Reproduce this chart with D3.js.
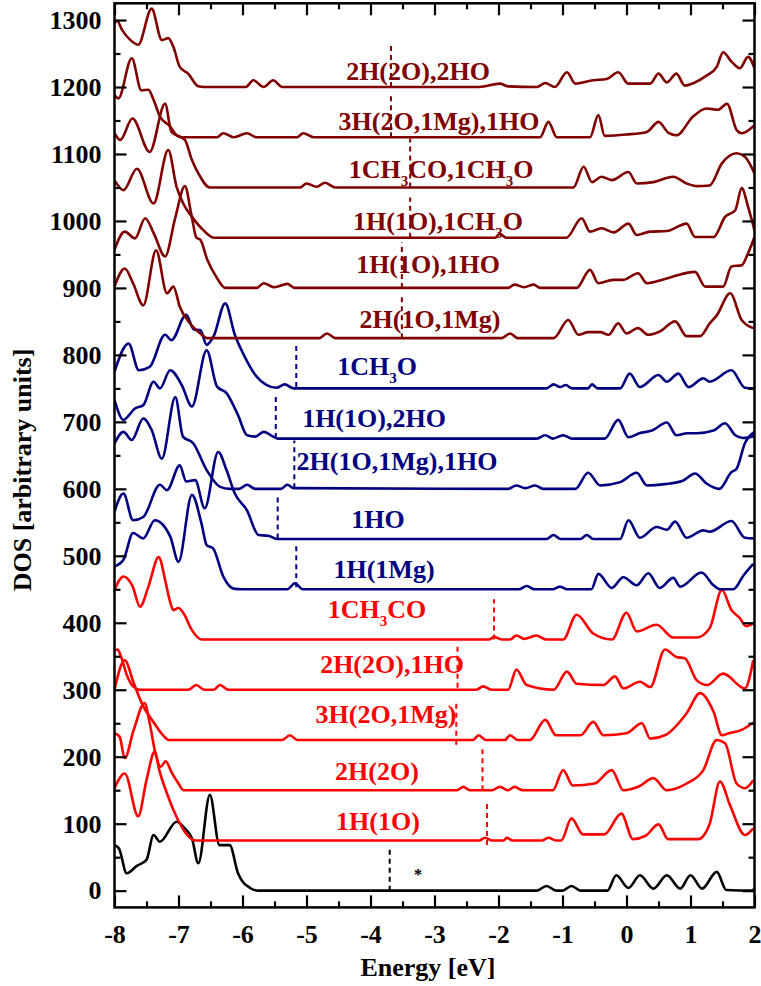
<!DOCTYPE html>
<html>
<head>
<meta charset="utf-8">
<title>DOS</title>
<script src="https://cdn.jsdelivr.net/npm/d3@7"></script>
<style>
  body { margin:0; background:#fff; }
  text { font-family:"Liberation Serif","Times New Roman",serif; font-weight:bold; }
</style>
</head>
<body>
<svg id="chart" width="761" height="986"></svg>
<script>
// energy [eV], DOS above the curve's own baseline
var black0 = [[-8,68],[-7.93,63],[-7.81,26],[-7.65,37],[-7.5,46],[-7.39,83],[-7.29,73],[-7.03,103],[-6.9,93],[-6.79,78],[-6.69,41],[-6.51,143],[-6.36,68],[-6.2,68],[-6.07,26],[-5.88,4],[-5.75,0],
  [-1.4,0],[-1.25,7],[-1.1,0],[-1.0,0],[-0.86,7],[-0.72,0],[-0.3,0],[-0.16,23],[0.03,4],[0.21,23],[0.42,3],[0.63,23],[0.84,3],[1.0,23],[1.18,3],[1.41,28],[1.56,1],[1.95,0],[2,3]];

var red1 = [[-8,78],[-7.84,100],[-7.63,36],[-7.5,90],[-7.37,133],[-7.3,105],[-7.18,70],[-7.03,35],[-6.88,10],[-6.74,0],
  [-2.3,0],[-2.21,4],[-2.1,0],[-1.92,0],[-1.87,4],[-1.78,0],[-1.32,0],[-1.22,4],[-1.1,0],[-1.02,0],[-0.86,33],[-0.68,9],[-0.35,9],[-0.08,40],[0.1,2],[0.3,7],[0.5,24],[0.65,2],[1.12,2],[1.3,25],[1.46,88],[1.62,52],[1.85,8],[1.98,18]];
var red2 = [[-8,85],[-7.92,80],[-7.84,48],[-7.7,90],[-7.53,130],[-7.45,100],[-7.36,55],[-7.28,35],[-7.2,43],[-7.1,25],[-7.0,10],[-6.92,0],
  [-2.65,0],[-2.55,5],[-2.45,0],[-2.1,0],[-1.98,5],[-1.85,0],[-1.75,5],[-1.62,0],[-1.15,0],[-0.99,30],[-0.84,7],[-0.5,10],[-0.23,30],[-0.05,0],[0.2,6],[0.42,18],[0.63,0],[0.94,10],[1.2,30],[1.41,75],[1.54,70],[1.72,10],[1.85,3],[1.98,15]];
var red3 = [[-8,75],[-7.84,119],[-7.7,85],[-7.55,50],[-7.4,28],[-7.25,8],[-7.15,0],[-5.38,0],[-5.26,7],[-5.14,0],
  [-2.4,0],[-2.31,7],[-2.2,0],[-1.9,0],[-1.82,7],[-1.7,0],[-1.51,0],[-1.27,30],[-1.1,7],[-0.72,7],[-0.52,27],[-0.36,7],[0.0,10],[0.24,25],[0.37,2],[0.6,7],[0.94,40],[1.15,70],[1.36,42],[1.49,7],[1.6,10],[1.8,15],[1.98,26]];
var red4 = [[-8,59],[-7.95,60],[-7.9,50],[-7.8,20],[-7.71,5],[-7.6,0],[-6.85,0],[-6.72,7],[-6.6,0],[-6.45,0],[-6.35,7],[-6.22,0],
  [-2.35,0],[-2.24,5],[-2.1,0],[-1.85,0],[-1.72,30],[-1.56,7],[-1.14,0],[-0.93,27],[-0.78,9],[-0.36,7],[-0.18,20],[-0.05,2],[0.21,12],[0.37,4],[0.6,60],[0.78,49],[0.91,47],[1.1,14],[1.26,7],[1.51,24],[1.85,2],[1.98,44]];
var red5 = [[-8,74],[-7.86,94],[-7.72,80],[-7.6,49],[-7.47,79],[-7.31,123],[-7.2,85],[-7.13,56],[-7.08,44],[-7.0,47],[-6.92,39],[-6.79,14],[-6.64,0],
  [-2.15,0],[-2.07,4],[-1.95,0],[-1.82,0],[-1.72,6],[-1.6,1],[-1.41,6],[-1.25,0],[-0.99,0],[-0.78,37],[-0.52,9],[-0.23,0],[0.0,40],[0.16,12],[0.47,22],[0.73,3],[1.1,3],[1.3,17],[1.49,74],[1.64,44],[1.77,32],[1.87,20],[1.98,24]];

var blue1 = [[-8,34],[-7.86,44],[-7.71,84],[-7.55,76],[-7.37,103],[-7.13,79],[-7.0,41],[-6.79,141],[-6.64,98],[-6.56,66],[-6.46,61],[-6.3,19],[-6.14,1],[-6.0,0],[-5.3,0],[-5.18,9],[-5.06,0],
  [-1.68,0],[-1.56,5],[-1.44,0],[-1.15,0],[-1.04,4],[-0.93,0],[-0.55,0],[-0.44,23],[-0.23,2],[-0.05,18],[0.16,6],[0.34,24],[0.52,2],[0.73,17],[0.84,4],[1.17,25],[1.36,6],[1.46,0],[1.67,0],[1.83,21],[1.98,38]];
var blue2 = [[-8,41],[-7.86,68],[-7.71,28],[-7.55,33],[-7.29,81],[-7.18,73],[-6.98,110],[-6.88,86],[-6.74,88],[-6.59,46],[-6.38,130],[-6.25,103],[-6.12,68],[-5.93,43],[-5.75,6],[-5.6,5],[-5.45,0],
  [-1.25,0],[-1.14,6],[-1.03,0],[-0.72,0],[-0.62,6],[-0.52,0],[-0.1,0],[0.03,28],[0.21,2],[0.47,18],[0.63,14],[0.76,26],[0.94,2],[1.2,13],[1.3,11],[1.64,27],[1.85,2],[2,1]];
var blue3 = [[-8,68],[-7.86,85],[-7.73,73],[-7.55,105],[-7.42,88],[-7.26,45],[-7.05,137],[-6.93,78],[-6.77,68],[-6.56,28],[-6.35,3],[-6.2,0],[-6.05,0],[-5.93,6],[-5.8,0],[-5.4,0],[-5.3,6],[-5.2,1],
  [-1.85,0],[-1.72,5],[-1.58,1],[-1.43,5],[-1.3,0],[-0.8,0],[-0.6,24],[-0.41,5],[-0.1,10],[0.16,24],[0.32,5],[0.6,7],[0.88,12],[1.07,23],[1.25,8],[1.45,0],[1.64,25],[1.72,30],[1.85,68],[2,85]];
var blue4 = [[-8,58],[-7.86,28],[-7.68,45],[-7.55,50],[-7.39,85],[-7.29,75],[-7.13,102],[-6.95,80],[-6.79,48],[-6.56,132],[-6.4,78],[-6.25,68],[-6.07,35],[-5.93,5],[-5.8,3],[-5.67,10],[-5.52,3],[-5.45,0],
  [-1.4,0],[-1.27,5],[-1.15,0],[-0.99,5],[-0.85,0],[-0.34,0],[-0.13,28],[0.03,2],[0.2,8],[0.4,12],[0.63,24],[0.78,5],[0.95,8],[1.1,8],[1.36,12],[1.54,23],[1.7,5],[1.82,1],[2,4]];
var blue5 = [[-8,25],[-7.78,67],[-7.62,27],[-7.45,32],[-7.21,80],[-7.11,72],[-6.88,110],[-6.76,88],[-6.66,87],[-6.56,65],[-6.45,78],[-6.27,127],[-6.12,80],[-5.98,50],[-5.8,20],[-5.62,5],[-5.47,1],[-5.34,6],[-5.2,0],
  [-1.25,0],[-1.14,6],[-1.04,2],[-0.95,5],[-0.85,0],[-0.6,0],[-0.54,6],[-0.45,0],[-0.1,0],[0.05,22],[0.21,2],[0.5,20],[0.63,10],[0.81,22],[0.97,2],[1.2,15],[1.3,10],[1.64,27],[1.85,1],[2,0]];

var dred1 = [[-8,77],[-7.84,104],[-7.71,82],[-7.55,49],[-7.35,131],[-7.18,67],[-7.08,77],[-6.98,47],[-6.82,22],[-6.66,7],[-6.55,0],[-4.8,0],[-4.68,7],[-4.55,0],
  [-1.95,0],[-1.82,7],[-1.7,0],[-1.14,0],[-0.91,27],[-0.75,5],[-0.6,9],[-0.41,9],[-0.28,5],[-0.13,22],[0,7],[0.18,15],[0.34,5],[0.52,10],[0.76,25],[0.94,3],[1.15,3],[1.3,22],[1.41,34],[1.62,67],[1.8,27],[1.98,15]];
var dred2 = [[-8,57],[-7.84,84],[-7.68,74],[-7.52,104],[-7.38,80],[-7.21,47],[-7.05,105],[-6.9,152],[-6.8,110],[-6.72,75],[-6.66,72],[-6.55,42],[-6.4,15],[-6.27,0],[-5.78,0],[-5.67,7],[-5.5,1],[-5.3,6],[-5.18,0],
  [-1.85,0],[-1.75,5],[-1.6,1],[-1.45,5],[-1.35,0],[-0.78,0],[-0.57,27],[-0.44,7],[-0.21,12],[-0.05,12],[0.18,22],[0.32,7],[0.55,12],[0.73,17],[1.07,24],[1.23,2],[1.51,2],[1.64,32],[1.8,34],[1.9,52],[2,76]];
var dred3 = [[-8,86],[-7.86,71],[-7.65,103],[-7.39,51],[-7.16,131],[-7.03,76],[-6.92,50],[-6.78,30],[-6.62,12],[-6.45,0],
  [-2.05,0],[-1.98,6],[-1.88,0],[-0.94,0],[-0.7,29],[-0.57,9],[-0.39,14],[-0.2,8],[0.03,21],[0.16,4],[0.37,9],[0.63,10],[0.94,21],[1.07,1],[1.36,1],[1.54,31],[1.7,41],[1.8,74],[1.9,46],[2,11]];
var dred4 = [[-8,81],[-7.91,71],[-7.72,103],[-7.45,53],[-7.21,125],[-7.11,83],[-6.9,71],[-6.79,41],[-6.69,21],[-6.51,0],[-5.1,0],[-5.0,6],[-4.84,1],[-4.71,7],[-4.55,0],
  [-0.83,0],[-0.67,31],[-0.54,8],[-0.39,16],[-0.23,11],[0.03,23],[0.16,6],[0.42,8],[0.73,16],[0.94,6],[1.1,2],[1.3,3],[1.49,36],[1.72,51],[1.85,46],[2,21]];
var dred5 = [[-8,63],[-7.94,58],[-7.73,118],[-7.58,70],[-7.47,71],[-7.39,56],[-7.29,31],[-7.13,16],[-7.03,3],[-6.95,0],[-6.4,0],[-6.3,6],[-6.14,0],[-5.93,6],[-5.78,0],[-5.15,0],[-5.05,6],[-4.89,0],
  [-1.35,0],[-1.22,23],[-1.09,0],[-0.57,0],[-0.44,33],[-0.34,2],[0,4],[0.32,8],[0.5,23],[0.65,7],[0.78,3],[1.04,31],[1.25,43],[1.43,41],[1.57,50],[1.72,11],[1.8,6],[2,18]];
var dred6 = [[-8,95],[-7.96,99],[-7.88,85],[-7.75,70],[-7.63,63],[-7.42,117],[-7.26,70],[-7.16,73],[-7.08,60],[-6.98,30],[-6.85,20],[-6.69,1],[-6.6,0],[-5.95,0],[-5.83,10],[-5.67,0],[-5.52,10],[-5.38,0],
  [-2.3,0],[-1.98,5],[-1.85,1],[-1.4,0],[-1.27,6],[-1.12,0],[-0.93,22],[-0.8,5],[-0.52,10],[-0.31,12],[-0.13,22],[0.03,5],[0.37,5],[0.5,20],[0.63,7],[0.78,20],[0.91,2],[1.05,6],[1.25,17],[1.41,30],[1.51,52],[1.64,38],[1.77,28],[1.9,45],[2,28]];

var seriesData = [black0, red1, red2, red3, red4, red5, blue1, blue2, blue3, blue4, blue5, dred1, dred2, dred3, dred4, dred5, dred6];
var offsets = [0, 75, 150, 225, 300, 375, 450, 525, 600, 675, 750, 825, 900, 975, 1050, 1125, 1200];
var labels = ["*", "1H(1O)", "2H(2O)", "3H(2O,1Mg)", "2H(2O),1HO", "1CH_3CO",
  "1H(1Mg)", "1HO", "2H(1O,1Mg),1HO", "1H(1O),2HO", "1CH_3O",
  "2H(1O,1Mg)", "1H(1O),1HO", "1H(1O),1CH_3O", "1CH_3CO,1CH_3O", "3H(2O,1Mg),1HO", "2H(2O),2HO"];
// dashed marker: energy, and its bottom/top relative to the baseline
var markE = [-3.70, -2.18, -2.25, -2.66, -2.64, -2.07, -5.16, -5.45, -5.19, -5.48, -5.16, -3.51, -3.51, -3.38, -3.38, -3.68, -3.68];
var markLo = [0, -7, 0, -7, 3, 0, 3, 1, 1, 1, 2, 0, 0, 0, 0, 0, 0];
var markHi = [63, 57, 67, 60, 67, 60, 69, 66, 72, 68, 69, 67, 68, 60, 73, 67, 67];
var labelX = [418, 378, 377, 386, 392, 377, 384, 378, 397, 374, 377, 430, 428, 438, 441, 439, 418];
var labelY = [880, 830, 780, 723, 673, 618, 578, 528, 470, 427, 375, 328, 273, 230, 178, 130, 80];

var colors = ["#000000", "#ff0000", "#ff0000", "#ff0000", "#ff0000", "#ff0000",
  "#000080", "#000080", "#000080", "#000080", "#000080",
  "#800000", "#800000", "#800000", "#800000", "#800000", "#800000"];

var xTicks = [-8, -7, -6, -5, -4, -3, -2, -1, 0, 1, 2];
var yTicks = [0, 100, 200, 300, 400, 500, 600, 700, 800, 900, 1000, 1100, 1200, 1300];

var svg = d3.select("#chart");
var x = d3.scaleLinear().domain([-8, 2]).range([114.5, 754.5]);
var y = d3.scaleLinear().domain([-25, 1325]).range([907.4, 3.3]);

var line = d3.line()
  .x(function(d){ return x(d[0]); })
  .y(function(d){ return y(d[1]); })
  .curve(d3.curveMonotoneX);

var plot = svg.append("g");
plot.append("clipPath").attr("id", "clip").append("rect")
  .attr("x", x(-8)).attr("y", y(1325)).attr("width", x(2) - x(-8)).attr("height", y(-25) - y(1325));

seriesData.forEach(function(s, i){
  var pts = s.map(function(p){ return [p[0], p[1] + offsets[i]]; });
  plot.append("path")
    .attr("d", line(pts))
    .attr("clip-path", "url(#clip)")
    .attr("fill", "none")
    .attr("stroke", colors[i])
    .attr("stroke-width", 2.6)
    .attr("stroke-linejoin", "round");
  plot.append("line")
    .attr("x1", x(markE[i])).attr("x2", x(markE[i]))
    .attr("y1", y(offsets[i] + markLo[i])).attr("y2", y(offsets[i] + markHi[i]))
    .attr("stroke", colors[i])
    .attr("stroke-width", 2)
    .attr("stroke-dasharray", "5,4");
});

// curve labels, "_3" marks a subscript
seriesData.forEach(function(s, i){
  var t = svg.append("text")
    .attr("x", labelX[i]).attr("y", labelY[i])
    .attr("text-anchor", "middle")
    .attr("fill", colors[i])
    .style("font-size", i == 0 ? "16px" : "26px");
  var parts = labels[i].split("_3");
  parts.forEach(function(p, k){
    if (k > 0) {
      t.append("tspan").attr("dy", 8).style("font-size", "15px").text("3");
      t.append("tspan").attr("dy", -8).text(p);
    } else {
      t.append("tspan").text(p);
    }
  });
});

// axes
var ax = svg.append("g");
var xMinor = d3.range(-7.5, 2, 1);
var yMinor = d3.range(50, 1325, 100);
var plain = function(d){ return String(d); };

function styleAxis(g){
  g.select(".domain").remove();
  g.selectAll(".tick line").attr("stroke", "#000").attr("stroke-width", 2.2);
  g.selectAll(".tick text").attr("fill", "#000").style("font-size", "26px")
    .style("font-family", "'Liberation Serif','Times New Roman',serif").style("font-weight", "bold");
}
function addAxis(gen, tx, ty){
  ax.append("g").attr("transform", "translate(" + tx + "," + ty + ")").call(gen).call(styleAxis);
}
addAxis(d3.axisBottom(x).tickValues(xTicks).tickSize(-12).tickPadding(17).tickFormat(plain), 0, y(-25));
addAxis(d3.axisLeft(y).tickValues(yTicks).tickSize(-12).tickPadding(13).tickFormat(plain), x(-8), 0);
addAxis(d3.axisTop(x).tickValues(xTicks).tickSize(-12).tickFormat(""), 0, y(1325));
addAxis(d3.axisRight(y).tickValues(yTicks).tickSize(-12).tickFormat(""), x(2), 0);
addAxis(d3.axisBottom(x).tickValues(xMinor).tickSize(-6).tickFormat(""), 0, y(-25));
addAxis(d3.axisTop(x).tickValues(xMinor).tickSize(-6).tickFormat(""), 0, y(1325));
addAxis(d3.axisLeft(y).tickValues(yMinor).tickSize(-6).tickFormat(""), x(-8), 0);
addAxis(d3.axisRight(y).tickValues(yMinor).tickSize(-6).tickFormat(""), x(2), 0);

ax.append("rect")
  .attr("x", x(-8)).attr("y", y(1325))
  .attr("width", x(2) - x(-8)).attr("height", y(-25) - y(1325))
  .attr("fill", "none").attr("stroke", "#000").attr("stroke-width", 2.5);

svg.append("text")
  .attr("x", 428).attr("y", 976)
  .attr("text-anchor", "middle").style("font-size", "26px")
  .text("Energy [eV]");
svg.append("text")
  .attr("transform", "translate(31,470) rotate(-90)")
  .attr("text-anchor", "middle").style("font-size", "26px")
  .text("DOS [arbitrary units]");
</script>
</body>
</html>
